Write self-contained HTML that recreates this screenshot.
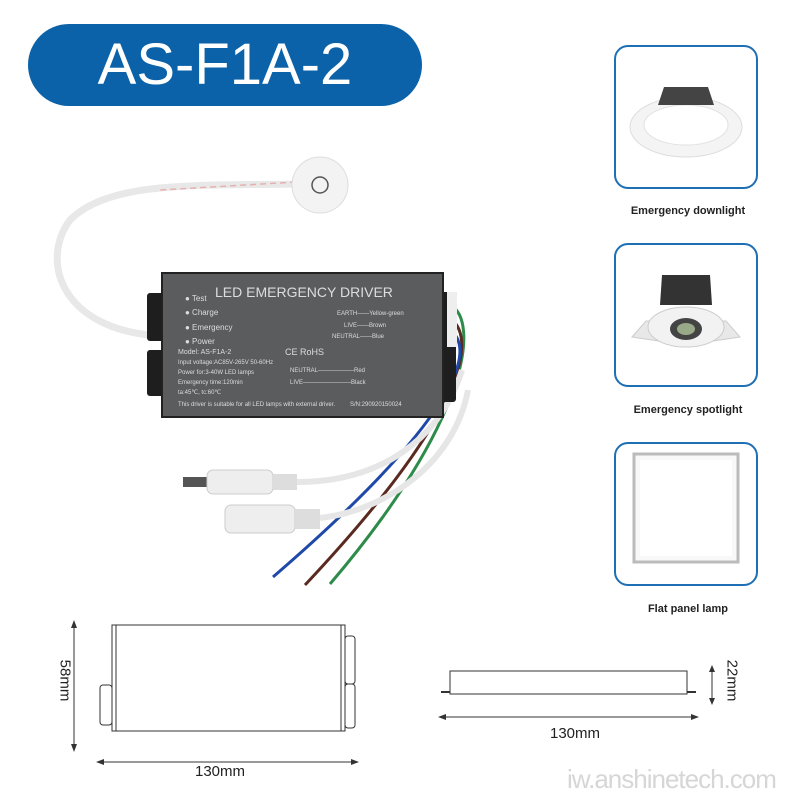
<!DOCTYPE html>
<html><head><meta charset="utf-8"><style>
body{margin:0;width:800px;height:800px;background:#fff;position:relative;overflow:hidden;font-family:"Liberation Sans",sans-serif}
.pill{position:absolute;left:28px;top:24px;width:394px;height:82px;border-radius:41px;background:#0b62a9;color:#fff;font-size:58px;text-align:center;line-height:82px}
.card{position:absolute;left:614px;width:144px;height:144px;border:2px solid #1f6fb5;border-radius:14px;box-sizing:border-box;background:#fff}
.lbl{position:absolute;left:590px;width:196px;text-align:center;font-size:11px;font-weight:bold;color:#222}
</style></head><body>
<div class="pill">AS-F1A-2</div>

<div class="card" style="top:45px"><svg width="140" height="140">
<ellipse cx="70" cy="80" rx="56" ry="30" fill="#f4f4f4" stroke="#ddd"/>
<ellipse cx="70" cy="78" rx="42" ry="20" fill="#fff" stroke="#e2e2e2"/>
<path d="M42 58 L48 40 L92 40 L98 58 Z" fill="#444"/></svg></div>
<div class="lbl" style="top:205px">Emergency downlight</div>

<div class="card" style="top:243px"><svg width="140" height="140">
<path d="M16 92 L30 76 L110 76 L124 92 L70 100 Z" fill="#e8e8e8" stroke="#ccc"/>
<ellipse cx="70" cy="82" rx="38" ry="20" fill="#f2f2f2" stroke="#ccc"/>
<ellipse cx="70" cy="84" rx="16" ry="11" fill="#444"/><ellipse cx="70" cy="84" rx="9" ry="6" fill="#9a8"/>
<path d="M44 60 L46 30 L94 30 L96 60 Z" fill="#333"/></svg></div>
<div class="lbl" style="top:404px">Emergency spotlight</div>

<div class="card" style="top:442px"><svg width="140" height="140">
<rect x="18" y="10" width="104" height="108" fill="#f8f8f8" stroke="#bbb" stroke-width="3"/>
<rect x="24" y="16" width="92" height="96" fill="#fff"/></svg></div>
<div class="lbl" style="top:603px">Flat panel lamp</div>

<svg style="position:absolute;left:0;top:0" width="580" height="800">
<path d="M296 184 C200 186 110 180 70 220 C40 260 60 330 160 336" fill="none" stroke="#e8e8e8" stroke-width="7"/>
<path d="M296 182 L160 190" stroke="#e7b0b0" stroke-width="1.5" stroke-dasharray="6 4"/>
<circle cx="320" cy="185" r="28" fill="#f3f3f3" stroke="#ddd"/>
<circle cx="320" cy="185" r="8" fill="none" stroke="#555" stroke-width="1.5"/>
<path d="M450 305 C480 320 470 420 330 584" fill="none" stroke="#2e8c4a" stroke-width="3"/>
<path d="M450 318 C480 340 460 420 305 585" fill="none" stroke="#5a2a20" stroke-width="3"/>
<path d="M450 330 C478 350 455 420 273 577" fill="none" stroke="#1f49a8" stroke-width="3"/>
<path d="M297 482 C380 482 440 440 462 370" fill="none" stroke="#e6e6e6" stroke-width="6"/>
<path d="M320 518 C390 510 455 460 468 390" fill="none" stroke="#e6e6e6" stroke-width="6"/>
<rect x="183" y="477" width="26" height="10" fill="#555"/>
<rect x="207" y="470" width="66" height="24" rx="6" fill="#eee" stroke="#ccc"/>
<rect x="273" y="474" width="24" height="16" fill="#ddd"/>
<rect x="225" y="505" width="70" height="28" rx="6" fill="#eee" stroke="#ccc"/>
<rect x="295" y="509" width="25" height="20" fill="#ddd"/>
<rect x="147" y="293" width="18" height="48" rx="3" fill="#1e1e1e"/>
<rect x="147" y="350" width="18" height="46" rx="3" fill="#1e1e1e"/>
<rect x="440" y="292" width="16" height="110" rx="3" fill="#1e1e1e"/>
<rect x="447" y="292" width="10" height="55" fill="#eee"/>
<rect x="162" y="273" width="281" height="144" fill="#5a5c5e" stroke="#222" stroke-width="2"/>
<g fill="#ddd" font-size="8">
<text x="215" y="297" font-size="14">LED EMERGENCY DRIVER</text>
<text x="185" y="301">● Test</text><text x="185" y="315">● Charge</text>
<text x="185" y="330">● Emergency</text><text x="185" y="344">● Power</text>
<text x="178" y="354" font-size="7">Model: AS-F1A-2</text>
<text x="178" y="364" font-size="6">Input voltage:AC85V-265V 50-60Hz</text>
<text x="178" y="374" font-size="6">Power for:3-40W LED lamps</text>
<text x="178" y="384" font-size="6">Emergency time:120min</text>
<text x="178" y="394" font-size="6">ta:45℃, tc:60℃</text>
<text x="178" y="406" font-size="6">This driver is suitable for all LED lamps with external driver.</text>
<text x="350" y="406" font-size="6">S/N:290920150024</text>
<text x="285" y="355" font-size="9">CE RoHS</text>
<text x="337" y="315" font-size="6">EARTH——Yellow-green</text>
<text x="344" y="327" font-size="6">LIVE——Brown</text>
<text x="332" y="338" font-size="6">NEUTRAL——Blue</text>
<text x="290" y="372" font-size="6">NEUTRAL——————Red</text>
<text x="290" y="384" font-size="6">LIVE————————Black</text>
</g>
<g stroke="#333" fill="none" stroke-width="1">
<rect x="112" y="625" width="233" height="106" fill="#fff"/>
<line x1="116" y1="625" x2="116" y2="731"/><line x1="341" y1="625" x2="341" y2="731"/>
<rect x="100" y="685" width="12" height="40" rx="3"/>
<rect x="345" y="636" width="10" height="48" rx="3"/><rect x="345" y="684" width="10" height="44" rx="3"/>
<line x1="74" y1="625" x2="74" y2="748"/><line x1="98" y1="762" x2="357" y2="762"/>
</g>
<g fill="#333">
<path d="M74 620 l-3 8 h6z"/><path d="M74 752 l-3 -8 h6z"/>
<path d="M96 762 l8 -3 v6z"/><path d="M359 762 l-8 -3 v6z"/>
</g>
</svg>
<div style="position:absolute;left:40px;top:672px;font-size:15px;color:#222;transform:rotate(90deg);width:50px;text-align:center">58mm</div>
<div style="position:absolute;left:195px;top:763px;font-size:15px;color:#222">130mm</div>

<svg style="position:absolute;left:430px;top:650px" width="300" height="80">
<g stroke="#333" fill="none">
<rect x="20" y="21" width="237" height="23" fill="#fff"/>
<line x1="11" y1="42" x2="20" y2="42" stroke-width="2"/><line x1="257" y1="42" x2="266" y2="42" stroke-width="2"/>
<line x1="10" y1="67" x2="267" y2="67"/><line x1="282" y1="18" x2="282" y2="52"/>
</g>
<g fill="#333"><path d="M8 67 l8 -3 v6z"/><path d="M269 67 l-8 -3 v6z"/><path d="M282 15 l-3 7 h6z"/><path d="M282 55 l-3 -7 h6z"/></g>
</svg>
<div style="position:absolute;left:707px;top:672px;font-size:15px;color:#222;transform:rotate(90deg);width:50px;text-align:center">22mm</div>
<div style="position:absolute;left:550px;top:725px;font-size:15px;color:#222">130mm</div>
<div style="position:absolute;left:567px;top:764px;font-size:26px;color:#d6d6d6;letter-spacing:-1px">iw.anshinetech.com</div>
</body></html>
